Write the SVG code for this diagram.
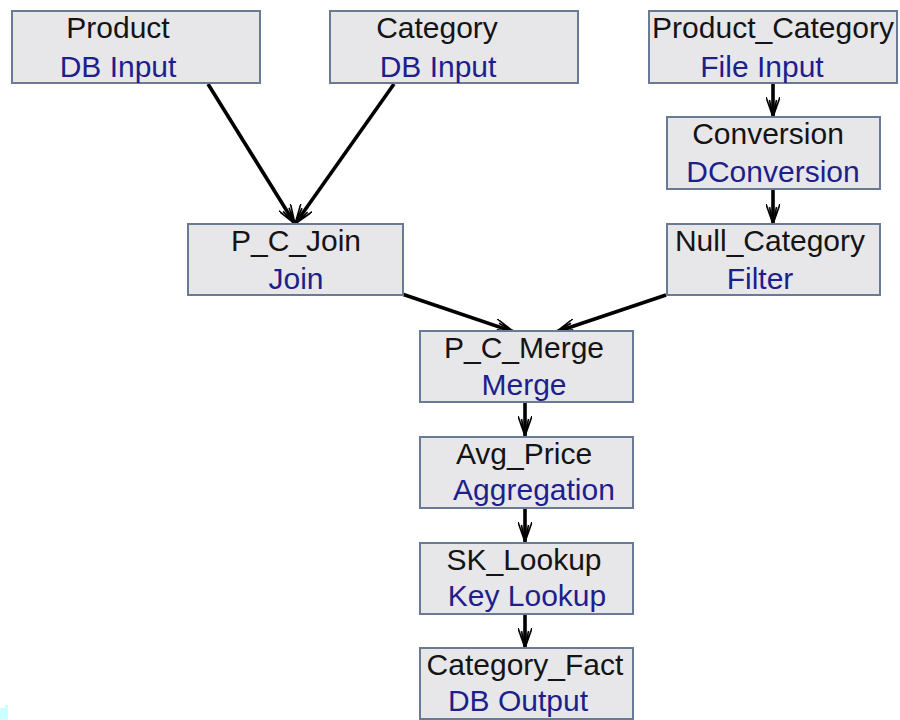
<svg xmlns="http://www.w3.org/2000/svg" width="900" height="720" viewBox="0 0 900 720">
<style>
.box{fill:#e7e7ea;stroke:#6a7994;stroke-width:2}
.t{font-family:"Liberation Sans",Arial,sans-serif;font-size:30px;text-anchor:middle}
.n{fill:#141414}
.s{fill:#1e1e8c}
.c{stroke:#000;stroke-width:3.6;fill:none;marker-end:url(#ah)}
</style>
<defs>
<marker id="ah" viewBox="0 0 20 14" refX="20" refY="7" markerWidth="20" markerHeight="14" markerUnits="userSpaceOnUse" orient="auto">
<path d="M0,0 L20,7 L0,14 M3,3.5 L20,7 L3,10.5" fill="none" stroke="#000" stroke-width="1.6"/>
</marker>
</defs>
<rect width="900" height="720" fill="#fff"/>
<rect x="0" y="708" width="5" height="12" fill="#ccffff"/>
<rect x="5" y="705" width="3" height="15" fill="#ccffff"/>
<g id="connectors">
<line class="c" x1="208" y1="84" x2="295" y2="224"/>
<line class="c" x1="394" y1="84" x2="295" y2="224"/>
<line class="c" x1="773" y1="84" x2="773" y2="117"/>
<line class="c" x1="773" y1="190" x2="773" y2="224"/>
<line class="c" x1="402" y1="294" x2="514" y2="332"/>
<line class="c" x1="666" y1="295" x2="556" y2="332"/>
<line class="c" x1="525" y1="403" x2="525" y2="436"/>
<line class="c" x1="525" y1="509" x2="525" y2="542"/>
<line class="c" x1="525" y1="615" x2="525" y2="648"/>
</g>
<g id="product">
<rect class="box" x="12" y="11" width="248" height="72"/>
<text class="t n" x="118" y="38">Product</text>
<text class="t s" x="118" y="77">DB Input</text>
</g>
<g id="category">
<rect class="box" x="330" y="11" width="248" height="72"/>
<text class="t n" x="437" y="38">Category</text>
<text class="t s" x="438" y="77">DB Input</text>
</g>
<g id="product_category">
<rect class="box" x="649" y="11" width="248" height="72"/>
<text class="t n" x="773" y="38">Product_Category</text>
<text class="t s" x="762" y="77">File Input</text>
</g>
<g id="conversion">
<rect class="box" x="667" y="117" width="213" height="72"/>
<text class="t n" x="768" y="144">Conversion</text>
<text class="t s" x="773" y="182">DConversion</text>
</g>
<g id="p_c_join">
<rect class="box" x="188" y="224" width="215" height="71"/>
<text class="t n" x="296" y="251">P_C_Join</text>
<text class="t s" x="296" y="289">Join</text>
</g>
<g id="null_category">
<rect class="box" x="667" y="224" width="213" height="71"/>
<text class="t n" x="770" y="251">Null_Category</text>
<text class="t s" x="760" y="289">Filter</text>
</g>
<g id="p_c_merge">
<rect class="box" x="420" y="331" width="213" height="71"/>
<text class="t n" x="524" y="358">P_C_Merge</text>
<text class="t s" x="524" y="395">Merge</text>
</g>
<g id="avg_price">
<rect class="box" x="420" y="437" width="213" height="71"/>
<text class="t n" x="524" y="464">Avg_Price</text>
<text class="t s" x="534" y="500">Aggregation</text>
</g>
<g id="sk_lookup">
<rect class="box" x="420" y="543" width="213" height="71"/>
<text class="t n" x="524" y="570">SK_Lookup</text>
<text class="t s" x="527" y="606">Key Lookup</text>
</g>
<g id="category_fact">
<rect class="box" x="420" y="648" width="213" height="71"/>
<text class="t n" x="525" y="675">Category_Fact</text>
<text class="t s" x="518" y="711">DB Output</text>
</g>
</svg>
